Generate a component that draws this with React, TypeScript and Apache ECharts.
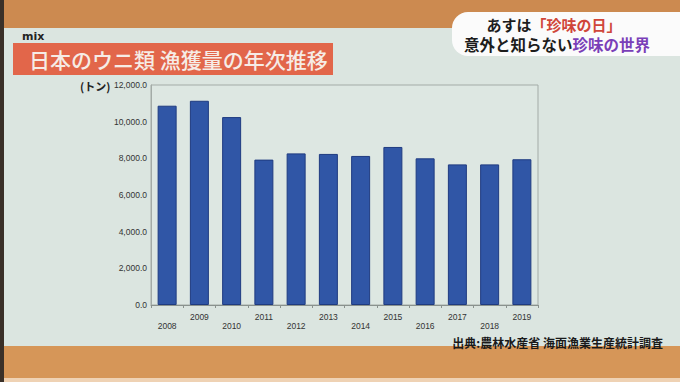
import React, { useEffect, useRef } from "react";
import * as echarts from "echarts";

const years = ["2008", "2009", "2010", "2011", "2012", "2013", "2014", "2015", "2016", "2017", "2018", "2019"];
const catch_tons = [10870, 11140, 10250, 7930, 8270, 8240, 8130, 8620, 8000, 7670, 7670, 7950];
const yTicks = { min: 0, max: 12000, interval: 2000 };

const chartTitle = "日本のウニ類 漁獲量の年次推移";
const unitLabel = "(トン)";
const sourceText = "出典:農林水産省 海面漁業生産統計調査";

export default function App() {
  const ref = useRef<HTMLDivElement>(null);
  useEffect(() => {
    const chart = echarts.init(ref.current!, undefined, { renderer: "svg" });
    const font = '"Noto Sans CJK JP", "Noto Sans", sans-serif';
    chart.setOption({
      animation: false,
      backgroundColor: "#dbe5e0",
      graphic: [
        { type: "rect", shape: { x: 0, y: 0, width: 680, height: 28 }, style: { fill: "#cc8a50" }, z: -10 },
        { type: "rect", shape: { x: 0, y: 346, width: 680, height: 36 }, style: { fill: "#d69658" }, z: -10 },
        { type: "rect", shape: { x: 0, y: 378, width: 680, height: 4 }, style: { fill: "#efd2b4" }, z: -9 },
        { type: "rect", shape: { x: 0, y: 0, width: 4, height: 382 }, style: { fill: "#3a3028" }, z: -8 },
        { type: "text", x: 22, y: 31, style: { text: "mix", fill: "#222", font: 'bold 11px "DejaVu Sans", sans-serif' } },
        { type: "rect", shape: { x: 13, y: 43, width: 320, height: 32 }, style: { fill: "#e2664a" } },
        {
          type: "text", x: 29, y: 59,
          style: { text: chartTitle, fill: "#f6ece6", font: `500 21px ${font}`, verticalAlign: "middle" },
        },
        { type: "rect", shape: { x: 452, y: 12, width: 240, height: 44, r: [16, 0, 0, 16] }, style: { fill: "#fbfbfb" } },
        {
          type: "text", x: 554, y: 24,
          style: {
            text: "{k|あすは}{r|「珍味の日」}",
            align: "center", verticalAlign: "middle",
            rich: {
              k: { fill: "#1d1d1d", font: `bold 15px ${font}`, lineHeight: 18 },
              r: { fill: "#d0463a", font: `bold 15px ${font}`, lineHeight: 18 },
            },
          },
        },
        {
          type: "text", x: 557, y: 44,
          style: {
            text: "{k|意外と知らない}{p|珍味の世界}",
            align: "center", verticalAlign: "middle",
            rich: {
              k: { fill: "#1d1d1d", font: `bold 15.5px ${font}`, lineHeight: 18 },
              p: { fill: "#7a3fb8", font: `bold 15.5px ${font}`, lineHeight: 18 },
            },
          },
        },
        {
          type: "text", x: 80, y: 86,
          style: { text: unitLabel, fill: "#222", font: `bold 11px ${font}`, verticalAlign: "middle" },
        },
        {
          type: "text", x: 663, y: 342,
          style: { text: sourceText, fill: "#1a1a1a", font: `bold 12px ${font}`, align: "right", verticalAlign: "middle" },
        },
      ],
      grid: {
        left: 151, right: 142, top: 85, bottom: 77,
        show: true, borderColor: "#a3aba7", borderWidth: 1, backgroundColor: "#dde7e2",
      },
      xAxis: {
        type: "category",
        data: years,
        axisLine: { lineStyle: { color: "#8a928e" } },
        axisTick: { show: true, length: 3, lineStyle: { color: "#8a928e" } },
        axisLabel: {
          interval: 0,
          margin: 4,
          formatter: (v: string, i: number) => (i % 2 === 0 ? `{lo|${v}}` : `{hi|${v}}`),
          rich: {
            lo: { color: "#333", fontSize: 8.5, fontFamily: "Liberation Sans, sans-serif", padding: [12, 0, 0, 0] },
            hi: { color: "#333", fontSize: 8.5, fontFamily: "Liberation Sans, sans-serif", padding: [3, 0, 0, 0] },
          },
        },
      },
      yAxis: {
        type: "value",
        min: yTicks.min, max: yTicks.max, interval: yTicks.interval,
        axisLine: { show: true, lineStyle: { color: "#a3aba7" } },
        axisTick: { show: false },
        splitLine: { show: false },
        axisLabel: {
          margin: 4,
          color: "#333", fontSize: 8.5, fontFamily: "Liberation Sans, sans-serif",
          formatter: (v: number) => v.toLocaleString("en-US") + ".0",
        },
      },
      series: [
        {
          type: "bar",
          data: catch_tons,
          barWidth: 19,
          itemStyle: { color: "#3056a6", borderColor: "#1f3b80", borderWidth: 1 },
        },
      ],
    });
    return () => chart.dispose();
  }, []);
  return <div ref={ref} style={{ position: "fixed", left: 0, top: 0, width: 680, height: 382 }} />;
}
